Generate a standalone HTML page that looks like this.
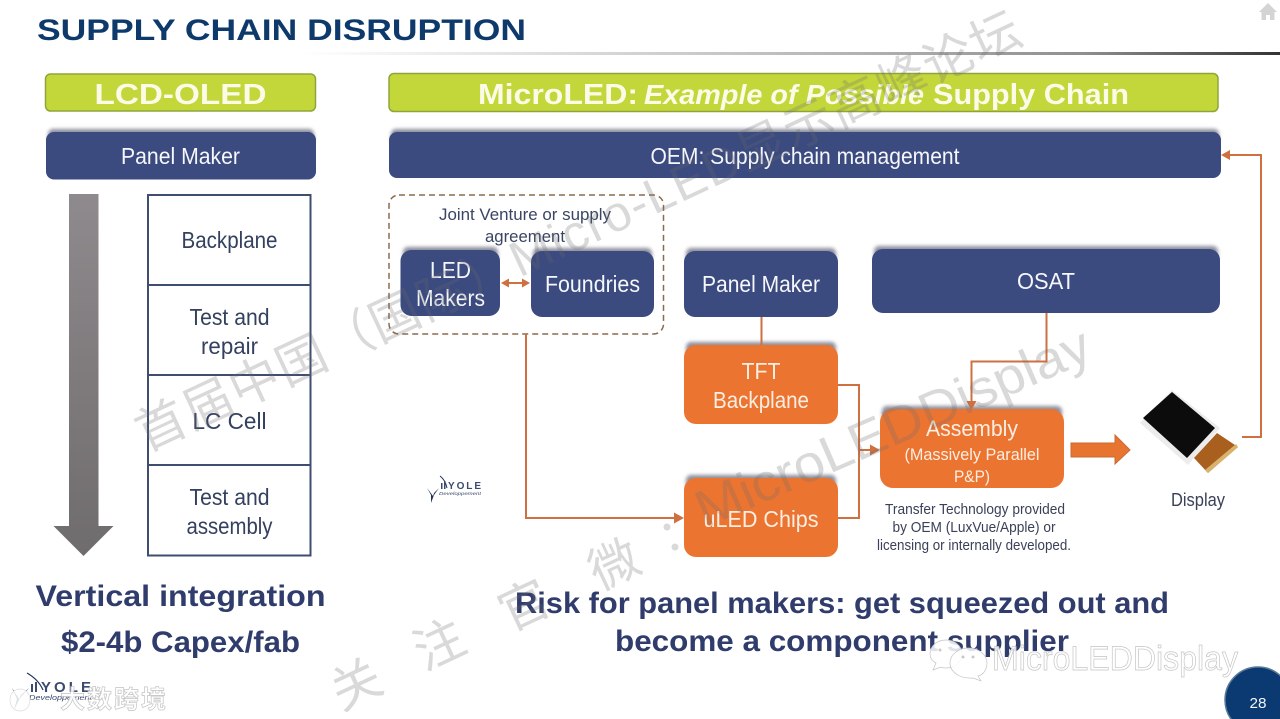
<!DOCTYPE html>
<html><head><meta charset="utf-8">
<style>
html,body{margin:0;padding:0;background:#fff;width:1280px;height:719px;overflow:hidden}
svg{display:block;filter:blur(0.35px)}
text{font-family:"Liberation Sans","Noto Sans CJK SC",sans-serif}
</style></head>
<body>
<svg width="1280" height="719" viewBox="0 0 1280 719" xmlns="http://www.w3.org/2000/svg">
<defs>
<linearGradient id="rule" x1="0" x2="1" y1="0" y2="0"><stop offset="0" stop-color="#fff"/><stop offset="0.45" stop-color="#c4c4c4"/><stop offset="0.8" stop-color="#8f8f8f"/><stop offset="1" stop-color="#333"/></linearGradient>
<linearGradient id="arr" x1="0" x2="0" y1="0" y2="1"><stop offset="0" stop-color="#8f8a8d"/><stop offset="1" stop-color="#6f6c6d"/></linearGradient>
<filter id="sh" x="-10%" y="-30%" width="120%" height="160%"><feGaussianBlur stdDeviation="1.800"/></filter>
</defs>
<rect width="1280" height="719" fill="#fff"/>

<text x="37" y="40" font-size="30" font-weight="700" fill="#0d3a6b" textLength="489" lengthAdjust="spacingAndGlyphs">SUPPLY CHAIN DISRUPTION</text>
<rect x="300" y="52" width="980" height="3" fill="url(#rule)"/>
<path d="M1268 3l-9 9h2.500v8h4.500v-5h4v5h4.500v-8h2.500z" fill="#d4d4d4"/>

<!-- green headers -->
<rect x="45.500" y="74" width="270" height="37" rx="5" fill="#c3d63a" stroke="#8fa53a" stroke-width="1.500"/>
<text x="180.500" y="104" font-size="29" font-weight="700" fill="#fbfce8" text-anchor="middle" textLength="172" lengthAdjust="spacingAndGlyphs">LCD-OLED</text>
<rect x="389" y="73.500" width="829" height="38" rx="5" fill="#c3d63a" stroke="#8fa53a" stroke-width="1.500"/>
<text x="478" y="104" font-size="29" font-weight="700" fill="#fbfce8" textLength="160" lengthAdjust="spacingAndGlyphs">MicroLED:</text>
<text x="644" y="104" font-size="28" font-weight="700" font-style="italic" fill="#fbfce8" textLength="280" lengthAdjust="spacingAndGlyphs">Example of Possible</text>
<text x="933" y="104" font-size="29" font-weight="700" fill="#fbfce8" textLength="196" lengthAdjust="spacingAndGlyphs">Supply Chain</text>

<!-- shadows (soft, top edge only) -->
<g fill="#8d8f9c" filter="url(#sh)">
<rect x="48" y="129" width="266" height="14" rx="5"/>
<rect x="391" y="129" width="828" height="14" rx="5"/>
<rect x="403" y="247" width="95" height="14" rx="5"/>
<rect x="533" y="248" width="119" height="14" rx="5"/>
<rect x="686" y="248" width="150" height="14" rx="5"/>
<rect x="874" y="246" width="344" height="14" rx="5"/>
<rect x="686" y="342" width="150" height="14" rx="5"/>
<rect x="686" y="475" width="150" height="14" rx="5"/>
<rect x="882" y="406" width="180" height="14" rx="5"/>
</g>

<!-- navy boxes -->
<g fill="#3b4a7f">
<rect x="46" y="132" width="270" height="47.500" rx="8"/>
<rect x="389" y="132" width="832" height="46" rx="8"/>
<rect x="400.500" y="250" width="99.500" height="66" rx="11"/>
<rect x="531" y="251" width="123" height="66" rx="11"/>
<rect x="684" y="251" width="154" height="66" rx="11"/>
<rect x="872" y="249" width="348" height="64" rx="11"/>
</g>
<!-- orange boxes -->
<g fill="#ec7431">
<rect x="684" y="345" width="154" height="79" rx="12"/>
<rect x="684" y="478" width="154" height="79" rx="12"/>
<rect x="880" y="409" width="184" height="79" rx="13"/>
</g>

<!-- navy text -->
<g fill="#f6f7fb" font-size="23" text-anchor="middle">
<text x="180.500" y="164" textLength="119" lengthAdjust="spacingAndGlyphs">Panel Maker</text>
<text x="805" y="164" textLength="309" lengthAdjust="spacingAndGlyphs">OEM: Supply chain management</text>
<text x="450.500" y="278" textLength="41" lengthAdjust="spacingAndGlyphs">LED</text>
<text x="450.500" y="306" textLength="69" lengthAdjust="spacingAndGlyphs">Makers</text>
<text x="592.500" y="292" textLength="95" lengthAdjust="spacingAndGlyphs">Foundries</text>
<text x="761" y="292" textLength="118" lengthAdjust="spacingAndGlyphs">Panel Maker</text>
<text x="1046" y="289" textLength="58" lengthAdjust="spacingAndGlyphs">OSAT</text>
</g>
<!-- orange text -->
<g fill="#fbeee2" text-anchor="middle">
<text x="761" y="379" font-size="23" textLength="39" lengthAdjust="spacingAndGlyphs">TFT</text>
<text x="761" y="408" font-size="23" textLength="96" lengthAdjust="spacingAndGlyphs">Backplane</text>
<text x="761" y="527" font-size="23" textLength="115" lengthAdjust="spacingAndGlyphs">uLED Chips</text>
<text x="972" y="436" font-size="22" textLength="92" lengthAdjust="spacingAndGlyphs">Assembly</text>
<text x="972" y="460" font-size="17" textLength="135" lengthAdjust="spacingAndGlyphs">(Massively Parallel</text>
<text x="972" y="482" font-size="17" textLength="36" lengthAdjust="spacingAndGlyphs">P&amp;P)</text>
</g>

<!-- left stack -->
<g fill="none" stroke="#3f4d70" stroke-width="2">
<rect x="148" y="195" width="162.500" height="360.500"/>
<line x1="148" x2="310.500" y1="285" y2="285"/>
<line x1="148" x2="310.500" y1="375" y2="375"/>
<line x1="148" x2="310.500" y1="465" y2="465"/>
</g>
<g fill="#33405f" font-size="23" text-anchor="middle">
<text x="229.500" y="248" textLength="96" lengthAdjust="spacingAndGlyphs">Backplane</text>
<text x="229.500" y="325" textLength="80" lengthAdjust="spacingAndGlyphs">Test and</text>
<text x="229.500" y="354" textLength="57" lengthAdjust="spacingAndGlyphs">repair</text>
<text x="229.500" y="429" textLength="74" lengthAdjust="spacingAndGlyphs">LC Cell</text>
<text x="229.500" y="505" textLength="80" lengthAdjust="spacingAndGlyphs">Test and</text>
<text x="229.500" y="534" textLength="86" lengthAdjust="spacingAndGlyphs">assembly</text>
</g>
<path d="M69 194h29.500v332h15l-30 30-30-30h15.500z" fill="url(#arr)"/>

<!-- JV dashed -->
<rect x="389" y="195" width="274.500" height="139" rx="10" fill="none" stroke="#8a6a4e" stroke-width="1.500" stroke-dasharray="6 4"/>
<g fill="#3a4563" font-size="17" text-anchor="middle">
<text x="525" y="220" textLength="172" lengthAdjust="spacingAndGlyphs">Joint Venture or supply</text>
<text x="525" y="242" textLength="80" lengthAdjust="spacingAndGlyphs">agreement</text>
</g>

<!-- connectors -->
<g fill="none" stroke="#cf7040" stroke-width="2">
<line x1="507" x2="524" y1="283" y2="283"/>
<path d="M526 334V518H676"/>
<line x1="761.500" x2="761.500" y1="317" y2="345"/>
<path d="M838 385H859V518H838"/>
<path d="M859 450H872"/>
<path d="M1046.500 313V361.500H971.500V402"/>
<path d="M1242 437H1261V155H1228"/>
</g>
<g fill="#cf7040">
<path d="M501 283l8-4.500v9z"/><path d="M530 283l-8-4.500v9z"/>
<path d="M684 518l-10-5.500v11z"/>
<path d="M880 450l-10-5.500v11z"/>
<path d="M971.500 410l-5-9h10z"/>
<path d="M1221 155l9-5v10z"/>
</g>
<path d="M1071 443H1115V435L1130 450L1115 464V457H1071z" fill="#e8752f" stroke="#c96a35" stroke-width="1"/>

<!-- display -->
<g>
<path d="M1172 390L1220 428L1188 465L1140 423z" fill="#ececec"/>
<path d="M1172 392L1215 428L1187 458L1143 418z" fill="#0c0c0c"/>
<path d="M1217 433L1238 447L1208 473L1194 458z" fill="#a9601f"/>
<path d="M1236 444L1238 447L1208 473L1205 470z" fill="#d9b26c"/>
</g>

<!-- captions -->
<g fill="#3a4158" text-anchor="middle">
<text x="975" y="514" font-size="14.500" textLength="180" lengthAdjust="spacingAndGlyphs">Transfer Technology provided</text>
<text x="974" y="532" font-size="14.500" textLength="163" lengthAdjust="spacingAndGlyphs">by OEM (LuxVue/Apple) or</text>
<text x="974" y="550" font-size="14.500" textLength="194" lengthAdjust="spacingAndGlyphs">licensing or internally developed.</text>
<text x="1198" y="506" font-size="18" textLength="54" lengthAdjust="spacingAndGlyphs">Display</text>
</g>

<!-- bold text -->
<g fill="#2f3c6c" font-weight="700" text-anchor="middle">
<text x="180.500" y="606" font-size="30" textLength="290" lengthAdjust="spacingAndGlyphs">Vertical integration</text>
<text x="180.500" y="652" font-size="30" textLength="239" lengthAdjust="spacingAndGlyphs">$2-4b Capex/fab</text>
<text x="842" y="613" font-size="30" textLength="654" lengthAdjust="spacingAndGlyphs">Risk for panel makers: get squeezed out and</text>
<text x="842" y="651" font-size="30" textLength="454" lengthAdjust="spacingAndGlyphs">become a component supplier</text>
</g>

<!-- small logo -->
<g fill="#3a4a70">
<text x="448" y="489" font-size="10" font-weight="700" textLength="33" lengthAdjust="spacing">YOLE</text>
<text x="439" y="495" font-size="4.500" font-style="italic" textLength="42" lengthAdjust="spacingAndGlyphs">Developpement</text>
<path d="M427 488l4 7 0 8 3-8 5-7-5 5-1 3z" fill="#1f3358"/>
<path d="M440 476c4 3 6 7 7 12" fill="none" stroke="#1f3358" stroke-width="1"/>
<rect x="441" y="483" width="1.500" height="6"/><rect x="444" y="481" width="1.500" height="8"/>
</g>
<!-- bottom logo -->
<g fill="#3a4a70">
<text x="41" y="692" font-size="15" font-weight="700" textLength="50" lengthAdjust="spacing">YOLE</text>
<text x="29" y="700" font-size="7.500" font-style="italic" textLength="63" lengthAdjust="spacingAndGlyphs">Developpement</text>
<path d="M12 688l5 11-3 11 6-12 9-10-8 7-2 4z" fill="#1f3358"/>
<path d="M27 673c7 4 13 10 16 17" fill="none" stroke="#1f3358" stroke-width="1.200"/>
<rect x="31" y="684" width="2" height="8"/><rect x="35" y="682" width="2" height="10"/>
</g>

<!-- page circle -->
<circle cx="1258" cy="700" r="33" fill="#0b3a73" stroke="#5d7a98" stroke-width="1.500"/>
<text x="1258" y="708" font-size="15" fill="#f2f4f8" text-anchor="middle" textLength="17" lengthAdjust="spacingAndGlyphs">28</text>

<!-- watermarks -->
<g fill="#6e6e6e" opacity="0.26">
<text transform="translate(146,452) rotate(-25)" font-size="50" textLength="970" lengthAdjust="spacing">首届中国（国际）Micro-LED显示高峰论坛</text>
<text transform="translate(341,711) rotate(-25)" font-size="50">关</text>
<text transform="translate(424,671) rotate(-25)" font-size="50">注</text>
<text transform="translate(509,632) rotate(-25)" font-size="50">官</text>
<text transform="translate(599,591) rotate(-25)" font-size="50">微</text>
<circle cx="667" cy="527" r="3.500"/><circle cx="675" cy="547" r="3.500"/>
<text transform="translate(705,528) rotate(-23.500)" font-size="52" textLength="425" lengthAdjust="spacingAndGlyphs">MicroLEDDisplay</text>
</g>
<!-- bottom overlays -->
<g fill="#fff" fill-opacity="0.85" stroke="#c4c4c4" stroke-width="0.700">
<text x="992" y="670" font-size="34" textLength="246" lengthAdjust="spacingAndGlyphs">MicroLEDDisplay</text>
<text x="60" y="708" font-size="25" font-weight="700" textLength="106" lengthAdjust="spacing">大数跨境</text>
<path d="M946 640c9 0 16 6 16 14s-7 14-16 14c-2 0-4 0-5-1l-8 3 3-7c-4-2-6-5-6-9 0-8 7-14 16-14z"/>
<path d="M969 648c10 0 18 7 18 15s-5 12-9 13l3 5-8-3c-13 1-23-6-23-15s9-15 19-15z"/>
<path d="M20 689c6 0 10 5 10 11s-4 11-10 11-10-5-10-11 4-11 10-11z" stroke="#dcdcdc"/>
</g>
<g fill="#c8c8c8"><circle cx="940" cy="650" r="1.500"/><circle cx="963" cy="657" r="1.500"/><circle cx="973" cy="657" r="1.500"/></g>
</svg>
</body></html>
